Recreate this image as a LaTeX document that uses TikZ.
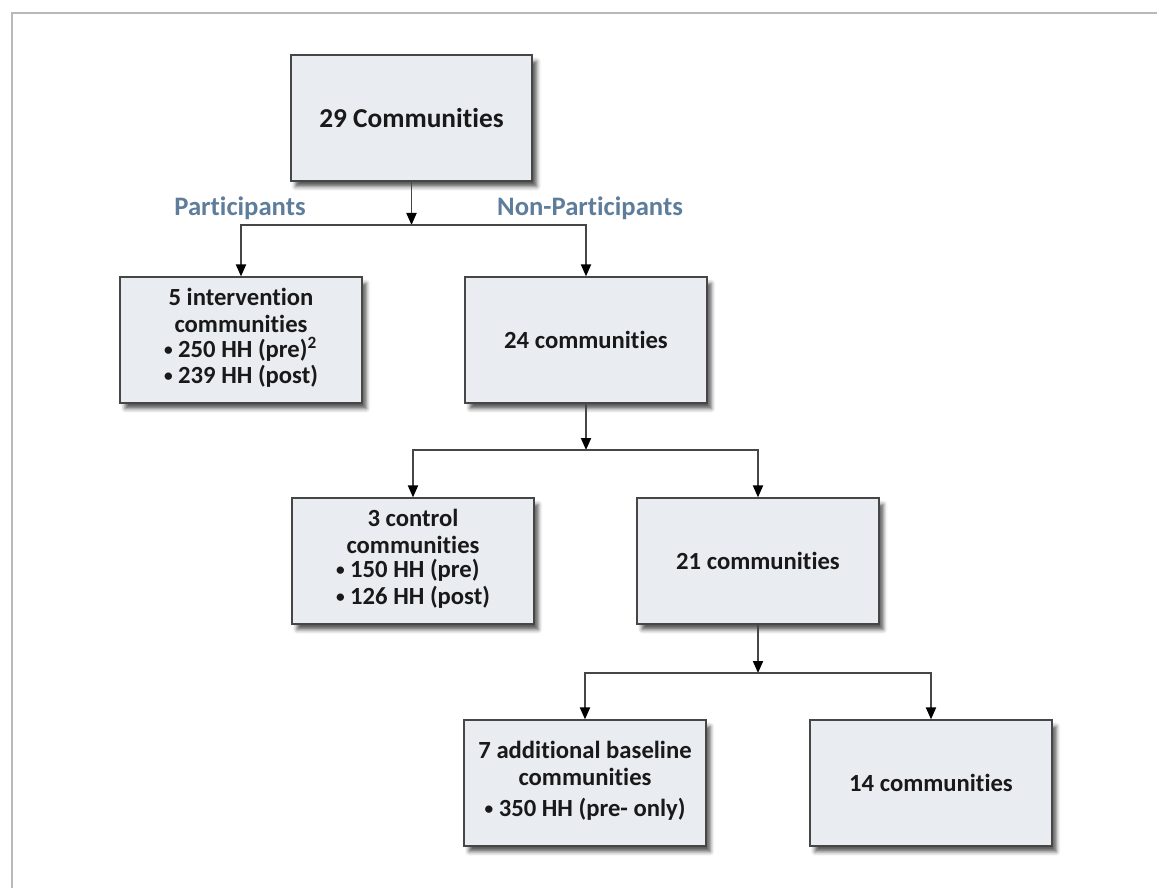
\documentclass[tikz,border=0pt]{standalone}
\usepackage{fontspec}
\setmainfont{Carlito}[Ligatures={NoCommon}]
\usepackage{xcolor}
\usetikzlibrary{arrows.meta,shadows.blur}
\definecolor{boxfill}{HTML}{E9ECF1}
\definecolor{boxline}{HTML}{464646}
\definecolor{partblue}{HTML}{5E7D9B}
\definecolor{framegray}{HTML}{B8B8B8}
\newcommand{\hhdot}{\raisebox{1.6pt}{\fontsize{13}{13}\selectfont •}}

\begin{document}
\begin{tikzpicture}[x=0.75pt,y=-0.75pt,
  box/.style={rectangle, draw=boxline, line width=1.4pt, fill=boxfill, text=black!90,
    minimum width=181pt, minimum height=94pt, align=center, inner sep=2pt,
    font=\bfseries\fontsize{18.5}{20}\selectfont,
    blur shadow={shadow xshift=3.5pt, shadow yshift=-4.5pt, shadow blur radius=3pt, shadow opacity=65}},
  grp/.style={font=\bfseries\fontsize{20}{22}\selectfont, text=partblue},
  link/.style={draw=boxline, line width=1.4pt, -{Triangle[length=9pt,width=7.5pt,color=black]}}]
\useasboundingbox (0,0) rectangle (1157,888);
\draw[framegray, line width=2.2pt] (12,888) -- (12,13) -- (1157,13);

\node[box, font=\bfseries\fontsize{20.5}{22}\selectfont] (all) at (411.5,118) {29 Communities};
\node[box] (interv) at (241,340) {5 intervention\\communities\\[3pt]
  \begin{tabular}{@{}l@{}}\hhdot{} 250 HH (pre)\textsuperscript{2}\\\hhdot{} 239 HH (post)\end{tabular}};
\node[box] (nonpart) at (586,340) {24 communities};
\node[box] (control) at (413,561) {3 control\\communities\\[3pt]
  \begin{tabular}{@{}l@{}}\hhdot{} 150 HH (pre)\\\hhdot{} 126 HH (post)\end{tabular}};
\node[box] (rest) at (758,561) {21 communities};
\node[box] (baseline) at (585,783) {7 additional baseline\\communities\\[4pt]
  \begin{tabular}{@{}l@{}}\hhdot{} 350 HH (pre- only)\end{tabular}};
\node[box] (remain) at (931,783) {14 communities};

\node[grp] (plab) at (240,208) {Participants};
\node[grp] (nlab) at (590,208) {Non-Participants};

\coordinate (j1) at (411.5,225);
\coordinate (j2) at (586,450);
\coordinate (j3) at (758,673);

\draw[link] (all) -- (j1);
\draw[link] (j1) -| (interv);
\draw[link] (j1) -| (nonpart);
\draw[link] (nonpart) -- (j2);
\draw[link] (j2) -| (control);
\draw[link] (j2) -| (rest);
\draw[link] (rest) -- (j3);
\draw[link] (j3) -| (baseline);
\draw[link] (j3) -| (remain);
\end{tikzpicture}
\end{document}
